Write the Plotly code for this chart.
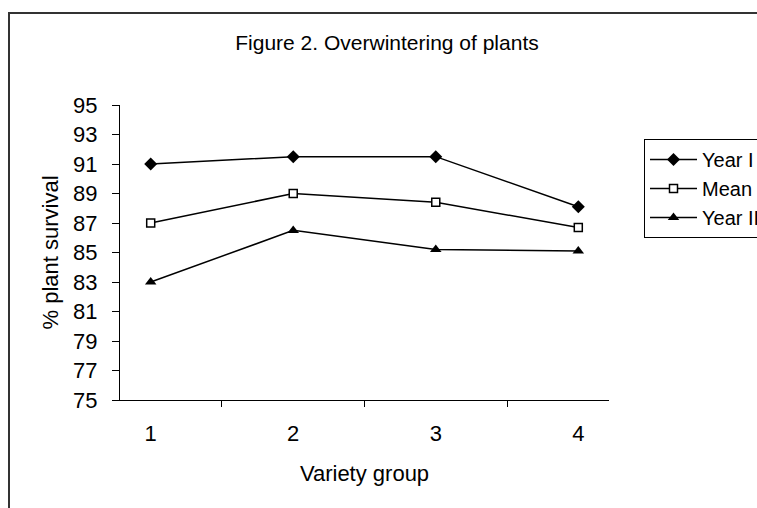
import plotly.graph_objects as go

categories = ["1", "2", "3", "4"]
year_i = [91.0, 91.5, 91.5, 88.1]
mean_vals = [87.0, 89.0, 88.4, 86.7]
year_ii = [83.0, 86.5, 85.2, 85.1]
y_ticks = [75, 77, 79, 81, 83, 85, 87, 89, 91, 93, 95]

W, H = 757, 508
L, R, T, B = 120, 609, 105, 400
pw, ph = R - L, B - T

FONT = "Liberation Sans, Arial, sans-serif"

fig = go.Figure()
fig.add_trace(go.Scatter(x=categories, y=year_i, name="Year I", mode="lines+markers",
                         line=dict(color="black", width=1.5),
                         marker=dict(symbol="diamond", size=10, color="black"),
                         legendgroup="a"))
fig.add_trace(go.Scatter(x=categories, y=mean_vals, name="Mean", mode="lines+markers",
                         line=dict(color="black", width=1.5),
                         marker=dict(symbol="square", size=8, color="white",
                                     line=dict(color="black", width=1.5)),
                         legendgroup="b"))
fig.add_trace(go.Scatter(x=categories, y=year_ii, name="Year II", mode="lines+markers",
                         line=dict(color="black", width=1.5),
                         marker=dict(symbol="triangle-up", size=10, color="black"),
                         legendgroup="c"))

# outer chart frame (partially cropped, as in the reference)
fig.add_shape(type="rect", xref="paper", yref="paper",
              x0=(9 - L) / pw, x1=(800 - L) / pw,
              y0=-(570 - B) / ph, y1=1 + (T - 13) / ph,
              line=dict(color="#333333", width=2), fillcolor="rgba(0,0,0,0)", layer="below")

fig.update_layout(
    width=W, height=H,
    margin=dict(l=L, r=W - R, t=T, b=H - B, autoexpand=False),
    paper_bgcolor="white", plot_bgcolor="white",
    font=dict(family=FONT, size=22, color="black"),
    title=dict(text="Figure 2. Overwintering of plants", xref="container", yref="container",
               x=387 / W, y=1 - 43 / H, xanchor="center", yanchor="middle",
               font=dict(family=FONT, size=21, color="black")),
    showlegend=True,
    legend=dict(x=(644 - L) / pw, y=1 - (139 - T) / ph, xanchor="left", yanchor="top",
                bordercolor="black", borderwidth=1, bgcolor="white",
                font=dict(family=FONT, size=20, color="black"),
                itemwidth=47,
                traceorder="grouped", tracegroupgap=0),
    xaxis=dict(type="category", tickson="boundaries", ticks="outside", ticklen=6,
               tickcolor="black", showline=True, linecolor="black", linewidth=1,
               showgrid=False, zeroline=False, ticklabelstandoff=14,
               tickfont=dict(family=FONT, size=22),
               title=dict(text="Variety group", standoff=20,
                          font=dict(family=FONT, size=22))),
    yaxis=dict(range=[75, 95], tickvals=y_ticks, ticks="outside", ticklen=7,
               tickcolor="black", showline=True, linecolor="black", linewidth=1,
               showgrid=False, zeroline=False, ticklabelstandoff=10,
               tickfont=dict(family=FONT, size=22),
               title=dict(text="% plant survival", standoff=8,
                          font=dict(family=FONT, size=22))),
)

fig.write_html("out.html", config={"displayModeBar": False},
               post_script="document.body.style.margin='0';document.body.style.overflow='hidden';")
